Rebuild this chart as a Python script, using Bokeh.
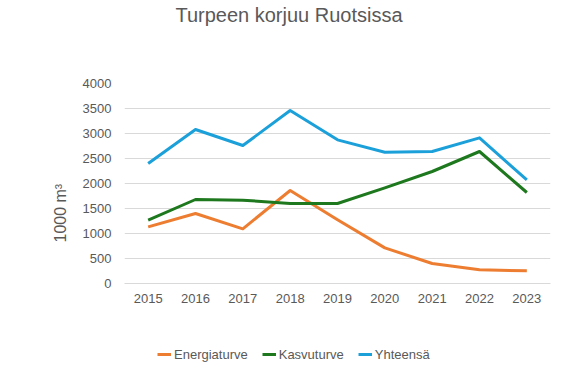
from bokeh.plotting import figure
from bokeh.layouts import column
from bokeh.models import Range1d, FactorRange, Legend, LegendItem, Title, Label, SingleIntervalTicker
from bokeh.embed import file_html
from bokeh.resources import INLINE

years = ["2015", "2016", "2017", "2018", "2019", "2020", "2021", "2022", "2023"]
energiaturve = [1133, 1400, 1093, 1860, 1273, 713, 400, 273, 253]
kasvuturve = [1267, 1680, 1667, 1600, 1600, 1913, 2240, 2640, 1820]
yhteensa = [2400, 3080, 2760, 3460, 2873, 2626, 2640, 2913, 2073]
series_names = ["Energiaturve", "Kasvuturve", "Yhteensä"]
colors = ["#ED7D31", "#1E781E", "#1CA0DA"]
series = [energiaturve, kasvuturve, yhteensa]

FONT = "Liberation Sans"
TXT = "#595959"


def bare(fig):
    fig.axis.visible = False
    fig.grid.grid_line_color = None
    fig.outline_line_color = None
    fig.border_fill_color = "white"
    fig.background_fill_color = "white"


# title strip
p0 = figure(width=561, height=30, output_backend="svg", toolbar_location=None,
            x_range=Range1d(0, 1), y_range=Range1d(0, 1),
            min_border_left=0, min_border_right=0, min_border_top=0, min_border_bottom=0)
bare(p0)
p0.add_layout(Label(x=164.5, y=16, x_units="screen", y_units="screen",
                    text="Turpeen korjuu Ruotsissa", text_align="center",
                    text_baseline="alphabetic", text_font=FONT,
                    text_font_size="20px", text_color=TXT))

# main chart
p = figure(width=561, height=288, output_backend="svg", toolbar_location=None, title=None,
           x_range=FactorRange(*years, range_padding=0), y_range=Range1d(0, 4000),
           min_border_left=124, min_border_right=11, min_border_top=53, min_border_bottom=35)
p.outline_line_color = None
p.background_fill_color = "white"
p.border_fill_color = "white"
p.xgrid.grid_line_color = None
p.ygrid.grid_line_color = "#D9D9D9"
p.ygrid.grid_line_width = 1
p.yaxis.ticker = SingleIntervalTicker(interval=500)
p.yaxis.axis_line_color = None
p.yaxis.major_tick_line_color = None
p.yaxis.minor_tick_line_color = None
p.yaxis.major_label_standoff = 7
p.xaxis.axis_line_color = "#D9D9D9"
p.xaxis.major_tick_line_color = None
p.xaxis.minor_tick_line_color = None
p.xaxis.major_label_standoff = 4
for ax in (p.xaxis, p.yaxis):
    ax.major_label_text_font = FONT
    ax.major_label_text_font_size = "13px"
    ax.major_label_text_color = TXT

for vals, c in zip(series, colors):
    p.line(years, vals, line_color=c, line_width=3, line_join="round")

ylab = Title(text="1000 m³", align="left", offset=41, standoff=22,
             text_font=FONT, text_font_size="16px", text_font_style="normal",
             text_color=TXT)
p.add_layout(ylab, "left")

# legend strip (its own lines lie outside its visible range; only the legend shows)
p2 = figure(width=561, height=46, output_backend="svg", toolbar_location=None,
            x_range=p.x_range, y_range=Range1d(-9000, -8000),
            min_border_left=0, min_border_right=0, min_border_top=0, min_border_bottom=0)
bare(p2)
keys = [p2.line(years, vals, line_color=c, line_width=3) for vals, c in zip(series, colors)]
legend = Legend(items=[LegendItem(label=n, renderers=[r]) for n, r in zip(series_names, keys)],
                orientation="horizontal", location=(33, 2), padding=0, margin=0,
                spacing=14, label_standoff=3, glyph_width=14, glyph_height=16,
                label_text_font=FONT, label_text_font_size="13px", label_text_color=TXT,
                border_line_color=None, background_fill_alpha=0)
p2.add_layout(legend, "center")

layout = column(p0, p, p2, spacing=0)
open("out.html", "w").write(file_html(layout, INLINE))
